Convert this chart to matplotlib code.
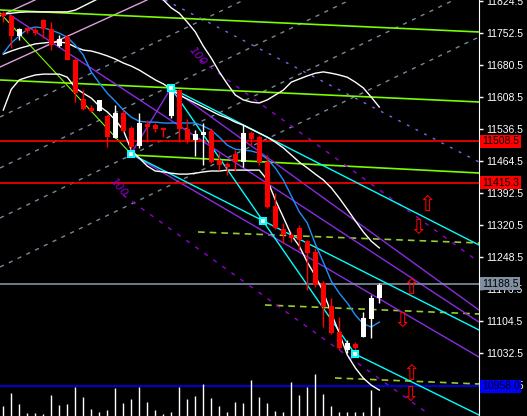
import numpy as np
import matplotlib.pyplot as plt

# candles (bar index 0..47), prices
opens  = [11797, 11791, 11746, 11764, 11759, 11782, 11761, 11723, 11743, 11692,
          11604, 11584, 11577, 11566, 11516, 11572, 11539, 11498, 11548, 11545,
          11539, 11566, 11624, 11536, 11512, 11523, 11532, 11467, 11458, 11480,
          11462, 11527, 11518, 11462, 11363, 11311, 11298, 11314, 11284, 11260,
          11190, 11138, 11080, 11039, 11053, 11068, 11109, 11156]
highs  = [11802, 11793, 11764, 11766, 11766, 11784, 11777, 11748, 11748, 11696,
          11624, 11590, 11602, 11568, 11590, 11579, 11543, 11572, 11557, 11550,
          11541, 11629, 11626, 11559, 11534, 11550, 11539, 11483, 11462, 11489,
          11545, 11532, 11523, 11478, 11392, 11325, 11305, 11320, 11287, 11269,
          11194, 11156, 11113, 11062, 11057, 11125, 11163, 11190]
lows   = [11777, 11719, 11737, 11752, 11748, 11741, 11714, 11721, 11692, 11597,
          11579, 11575, 11577, 11496, 11516, 11530, 11482, 11494, 11507, 11530,
          11518, 11561, 11507, 11505, 11476, 11455, 11460, 11444, 11433, 11442,
          11451, 11500, 11455, 11359, 11311, 11280, 11282, 11264, 11174, 11181,
          11091, 11075, 11039, 11032, 11035, 11068, 11066, 11145]
closes = [11791, 11746, 11762, 11757, 11752, 11761, 11725, 11739, 11692, 11617,
          11581, 11577, 11602, 11518, 11572, 11532, 11496, 11550, 11541, 11536,
          11534, 11624, 11536, 11512, 11525, 11530, 11462, 11455, 11451, 11462,
          11527, 11514, 11462, 11361, 11314, 11298, 11291, 11287, 11257, 11185,
          11136, 11077, 11044, 11055, 11044, 11111, 11156, 11185]
volume = [10, 23, 12, 3, 3, 2, 21, 11, 12, 29, 19, 7, 4, 6, 28, 13, 17, 29, 14, 6,
          2, 4, 29, 17, 20, 32, 18, 10, 4, 14, 13, 36, 19, 13, 5, 4, 34, 21, 29, 42,
          22, 10, 4, 4, 4, 4, 26, 9]

# bollinger-type bands and fast average
band_up  = [11795, 11797, 11799, 11800, 11800, 11800, 11800, 11800, 11800, 11804,
            11813, 11822, 11831, 11838, 11842, 11845, 11845, 11842, 11838, 11833,
            11827, 11809, 11797, 11777, 11755, 11723, 11696, 11665, 11638, 11613,
            11602, 11597, 11595, 11602, 11613, 11624, 11642, 11649, 11656, 11662,
            11665, 11662, 11658, 11653, 11642, 11629, 11608, 11586]
band_mid = [11705, 11712, 11718, 11723, 11728, 11730, 11732, 11732, 11730, 11721,
            11714, 11712, 11707, 11701, 11694, 11685, 11678, 11669, 11658, 11647,
            11638, 11626, 11613, 11604, 11595, 11586, 11577, 11568, 11561, 11552,
            11545, 11536, 11527, 11518, 11507, 11494, 11478, 11462, 11449, 11435,
            11422, 11404, 11381, 11356, 11330, 11305, 11284, 11269]
band_low = [11579, 11626, 11647, 11653, 11658, 11660, 11660, 11660, 11653, 11629,
            11617, 11606, 11588, 11575, 11557, 11534, 11489, 11471, 11453, 11442,
            11440, 11437, 11435, 11435, 11437, 11440, 11442, 11442, 11444, 11444,
            11444, 11444, 11444, 11422, 11377, 11338, 11298, 11273, 11237, 11206,
            11170, 11122, 11077, 11028, 10999, 10976, 10960, 10949]
ma_fast  = [11707, 11730, 11746, 11761, 11766, 11764, 11759, 11752, 11743, 11725,
            11703, 11665, 11640, 11617, 11599, 11579, 11563, 11554, 11552, 11552,
            11550, 11550, 11550, 11550, 11550, 11543, 11534, 11518, 11500, 11491,
            11489, 11487, 11482, 11469, 11449, 11422, 11386, 11350, 11325, 11278,
            11237, 11194, 11167, 11145, 11118, 11098, 11091, 11102]

# horizontal levels
levels = [11508.5, 11415.3, 11188.5, 10958.0]
level_colors = ['#ff0000', '#ff0000', '#8090a0', '#0000ff']
level_labels = ['11508.5', '11415.3', '11188.5', '10958.0']

# trendlines: (bar0, price0, bar1, price1)
cyan_lines = [(20.96, 11628.8, 59.46, 11275.5),
              (15.96, 11480.3, 59.46, 11084.3),
              (20.96, 11628.8, 43.96, 11030.3),
              (43.96, 11030.3, 59.46, 10893.0)]
pivots_x = [20.96, 15.96, 32.46, 43.96]
pivots_y = [11628.8, 11480.3, 11329.5, 11030.3]
violet_lines = [(0.84, 11793.0, 59.46, 11102.0),
                (20.96, 11628.8, 59.46, 11129.3),
                (15.96, 11480.3, 20.96, 11628.8),
                (15.96, 11480.3, 59.46, 11023.5)]
violet_dash = [(24.6, 11691.8, 59.46, 11237.3),
               (14.96, 11388.0, 53.34, 10893.0)]
slate_dash = [(20.21, 11826.8, 59.46, 11462.3)]
gray_dash = [(-0.41, 11563.5, 30.09, 11826.8),
             (-0.41, 11448.8, 43.34, 11826.8),
             (-0.41, 11336.3, 56.34, 11826.8),
             (-0.41, 11226.0, 59.46, 11743.5)]
plum_lines = [(-0.41, 11676.0, 17.96, 11826.8),
              (-0.41, 11790.8, 3.96, 11826.8)]
green_lines = [(-0.41, 11804.3, 59.46, 11754.8),
               (-0.41, 11646.8, 59.46, 11597.3),
               (15.96, 11478.0, 59.46, 11437.5)]
chartreuse_lines = [(-0.41, 11797.5, 15.96, 11480.3)]
lime_dash = [(24.34, 11304.8, 59.46, 11280.0),
             (32.71, 11140.5, 59.46, 11120.3),
             (41.46, 10976.3, 59.46, 10962.8)]
arrows_up = [(52.96, 11365.5), (50.96, 11178.8), (50.96, 10985.0)]
arrows_dn = [(51.84, 11313.8), (49.84, 11104.5), (50.84, 10938.0)]
fib_marks = [(24.3, 11700.0), (14.4, 11405.0)]

fig = plt.figure(figsize=(5.27, 4.16), dpi=100, facecolor='black')
ax = fig.add_axes([0, 0, 479 / 527, 1])
ax.set_facecolor('black')
ax.set_xlim(-0.4125, 59.4625)
ax.set_ylim(10890.75, 11826.75)

def seg(lines, **kw):
    for x0, y0, x1, y1 in lines:
        ax.plot([x0, x1], [y0, y1], **kw)

seg(gray_dash, color='#778899', lw=1, ls=(0, (3, 4)), zorder=1)
seg(plum_lines, color='#dda0dd', lw=1, zorder=1)
seg(green_lines, color='#7cfc00', lw=1.2, zorder=2)
seg(chartreuse_lines, color='#7cfc00', lw=0.8, zorder=2)
seg(lime_dash, color='#9acd32', lw=1.2, ls=(0, (4, 3)), zorder=2)
seg(slate_dash, color='#7b68ee', lw=1, ls=(0, (2, 5)), zorder=2)
seg(violet_dash, color='#9400d3', lw=1, ls=(0, (3, 5)), zorder=2)
seg(violet_lines, color='#8a2be2', lw=1, zorder=2)
seg(cyan_lines, color='#00ffff', lw=1, zorder=3)

for lv, c in zip(levels, level_colors):
    ax.axhline(lv, color=c, lw=1.2, zorder=2)

bars = np.arange(len(opens))
ax.plot(bars, band_up, color='white', lw=1, zorder=3)
ax.plot(bars, band_mid, color='white', lw=1, zorder=3)
ax.plot(bars, band_low, color='white', lw=1, zorder=3)
ax.plot(bars, ma_fast, color='#1e90ff', lw=1, zorder=3)

# candles
for i in bars:
    up = closes[i] >= opens[i]
    c = 'white' if up else '#ff0000'
    ax.vlines(i, lows[i], highs[i], color=c, lw=1, zorder=4)
    lo, hi = min(opens[i], closes[i]), max(opens[i], closes[i])
    ax.bar(i, max(hi - lo, 2), bottom=lo, width=0.62, color=c, lw=0, zorder=4)

ax.plot(pivots_x, pivots_y, 's', ms=5, mfc='white', mec='#00ffff', mew=1.5, zorder=6)

for x, y in arrows_up:
    ax.text(x, y, '\u21e7', color='#ff0000', fontsize=15, ha='center', va='center', zorder=6)
for x, y in arrows_dn:
    ax.text(x, y, '\u21e9', color='#ff0000', fontsize=15, ha='center', va='center', zorder=6)
for x, y in fib_marks:
    ax.text(x, y, '100', color='#9400d3', fontsize=8, style='italic', rotation=-50,
            ha='center', va='center', zorder=5)

# volume histogram at the bottom
axv = ax.twinx()
axv.set_ylim(0, 416)
axv.vlines(bars, 0, volume, color='white', lw=1)
axv.set_axis_off()

# right price scale
ax.yaxis.tick_right()
ax.set_yticks(np.arange(11824.5, 10900, -72))
ax.yaxis.set_major_formatter(plt.FuncFormatter(lambda v, p: '%.1f' % v))
ax.tick_params(axis='y', colors='white', length=3, width=1, pad=2, labelsize=7.5,
               labelfontfamily='Liberation Sans')
ax.set_xticks([])
for s in ('top', 'left', 'bottom'):
    ax.spines[s].set_visible(False)
ax.spines['right'].set_color('white')

for lv, c, lab in zip(levels, level_colors, level_labels):
    ax.annotate(lab, xy=(1, lv), xycoords=('axes fraction', 'data'), xytext=(3, 0),
                textcoords='offset pixels', ha='left', va='center', fontsize=7.5,
                family='Liberation Sans', color='black', zorder=10, annotation_clip=False,
                bbox=dict(boxstyle='square,pad=0.15', fc=c, ec='none'))

fig.savefig('out.png', dpi=100, facecolor='black')
